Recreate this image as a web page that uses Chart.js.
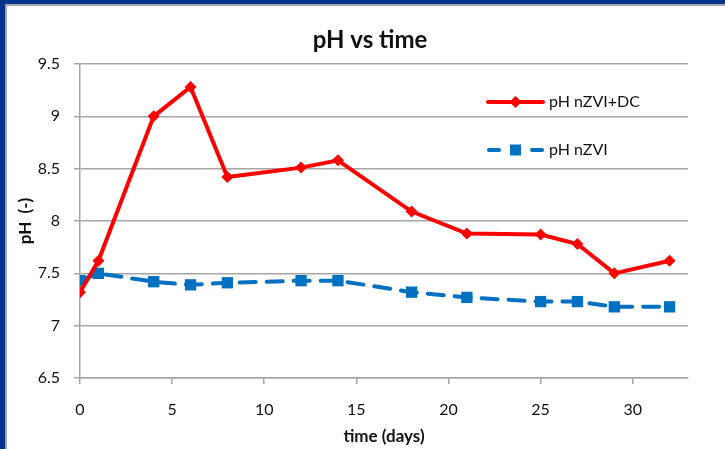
<!DOCTYPE html>
<html>
<head>
<meta charset="utf-8">
<script src="https://cdn.jsdelivr.net/npm/chart.js@4.4.1/dist/chart.umd.min.js"></script>
<style>
  html, body { margin: 0; padding: 0; background: #fff; }
  #frame {
    position: absolute; left: 0; top: 0; width: 725px; height: 449px;
    box-sizing: border-box; border-left: 5px solid #06338f; border-top: 4px solid #06338f;
  }
  #inner {
    width: 100%; height: 100%; box-sizing: border-box;
    border-left: 2px solid #a6a6a6; border-top: 2px solid #a6a6a6; background: #fff;
  }
  #wrap { position: relative; width: 718px; height: 443px; }
</style>
</head>
<body>
<div id="frame"><div id="inner"><div id="wrap"><canvas id="ph"></canvas></div></div></div>
<script>
const font = "Lato, 'Open Sans', sans-serif";
const textColor = "#111111";
const gridColor = "#a6a6a6";

const days = [0, 1, 4, 6, 8, 12, 14, 18, 21, 25, 27, 29, 32];
const phDc = [7.32, 7.62, 9.0, 9.28, 8.42, 8.51, 8.58, 8.09, 7.88, 7.87, 7.78, 7.5, 7.62];
const phZvi = [7.43, 7.5, 7.42, 7.39, 7.41, 7.43, 7.43, 7.32, 7.27, 7.23, 7.23, 7.18, 7.18];
const seriesNames = ["pH nZVI+DC", "pH nZVI"];
const chartTitle = "pH vs time";

const red = "#ff0000";
const blue = "#0070c0";

function points(xs, ys) {
  return xs.map((x, i) => ({ x, y: ys[i] }));
}

// title + legend drawn by hand so they sit where the original has them
const overlay = {
  id: "overlay",
  afterDraw(chart) {
    const ctx = chart.ctx;
    const x0 = 481, x1 = 536;
    ctx.save();
    ctx.fillStyle = textColor;
    ctx.font = "bold 24px " + font;
    ctx.textAlign = "center";
    ctx.textBaseline = "middle";
    ctx.fillText(chartTitle, 363, 34);

    ctx.lineCap = "round";
    // red entry
    let y = 96;
    ctx.strokeStyle = red;
    ctx.lineWidth = 4;
    ctx.beginPath(); ctx.moveTo(x0, y); ctx.lineTo(x1, y); ctx.stroke();
    ctx.fillStyle = red;
    ctx.beginPath();
    ctx.moveTo(508.5, y - 6); ctx.lineTo(514.5, y); ctx.lineTo(508.5, y + 6); ctx.lineTo(502.5, y);
    ctx.closePath(); ctx.fill();
    // blue entry
    y = 144;
    ctx.strokeStyle = blue;
    ctx.beginPath(); ctx.moveTo(x0 + 1, y); ctx.lineTo(x0 + 11, y); ctx.stroke();
    ctx.beginPath(); ctx.moveTo(x1 - 11, y); ctx.lineTo(x1 - 1, y); ctx.stroke();
    ctx.fillStyle = blue;
    ctx.fillRect(503, y - 5.5, 11, 11);

    ctx.fillStyle = textColor;
    ctx.font = "16px " + font;
    ctx.textAlign = "left";
    ctx.fillText(seriesNames[0], 542, 96);
    ctx.fillText(seriesNames[1], 542, 144);
    ctx.restore();
  }
};

new Chart(document.getElementById("ph"), {
  type: "line",
  data: {
    datasets: [
      {
        label: seriesNames[0],
        data: points(days, phDc),
        borderColor: red,
        backgroundColor: red,
        borderWidth: 4,
        pointStyle: "rectRot",
        pointRadius: 6,
        pointBorderWidth: 0,
        tension: 0,
      },
      {
        label: seriesNames[1],
        data: points(days, phZvi),
        borderColor: blue,
        backgroundColor: blue,
        borderWidth: 4,
        borderDash: [16, 11],
        borderCapStyle: "round",
        pointStyle: "rect",
        pointRadius: 8,
        pointBorderWidth: 0,
        tension: 0,
      },
    ],
  },
  plugins: [overlay],
  options: {
    responsive: true,
    maintainAspectRatio: false,
    animation: false,
    layout: { padding: { left: 0, right: 37, top: 58, bottom: 0 } },
    plugins: {
      legend: { display: false },
      tooltip: { enabled: false },
      title: { display: false },
    },
    scales: {
      x: {
        type: "linear",
        min: 0,
        max: 33,
        afterFit: (s) => { s.height = 71; },
        ticks: { stepSize: 5, includeBounds: false, color: textColor, font: { family: font, size: 16 }, padding: 16, maxRotation: 0 },
        grid: { drawOnChartArea: false, drawTicks: true, tickLength: 6, color: gridColor, lineWidth: 1.5 },
        border: { color: gridColor, width: 1.5 },
        title: {
          display: true,
          text: "time (days)",
          color: textColor,
          font: { family: font, size: 17, weight: "bold" },
          padding: { top: 0, bottom: 2 },
        },
      },
      y: {
        min: 6.5,
        max: 9.5,
        afterFit: (s) => { s.width = 73; },
        ticks: { stepSize: 0.5, color: textColor, font: { family: font, size: 16 }, padding: 14, callback: (v) => String(+v.toFixed(1)) },
        grid: { color: gridColor, lineWidth: 1.5, tickLength: 6 },
        border: { color: gridColor, width: 1.5 },
        title: {
          display: true,
          text: "pH  (-)",
          color: textColor,
          font: { family: font, size: 17, weight: "bold" },
          padding: { top: 8, bottom: 0 },
        },
      },
    },
  },
});
</script>
</body>
</html>
